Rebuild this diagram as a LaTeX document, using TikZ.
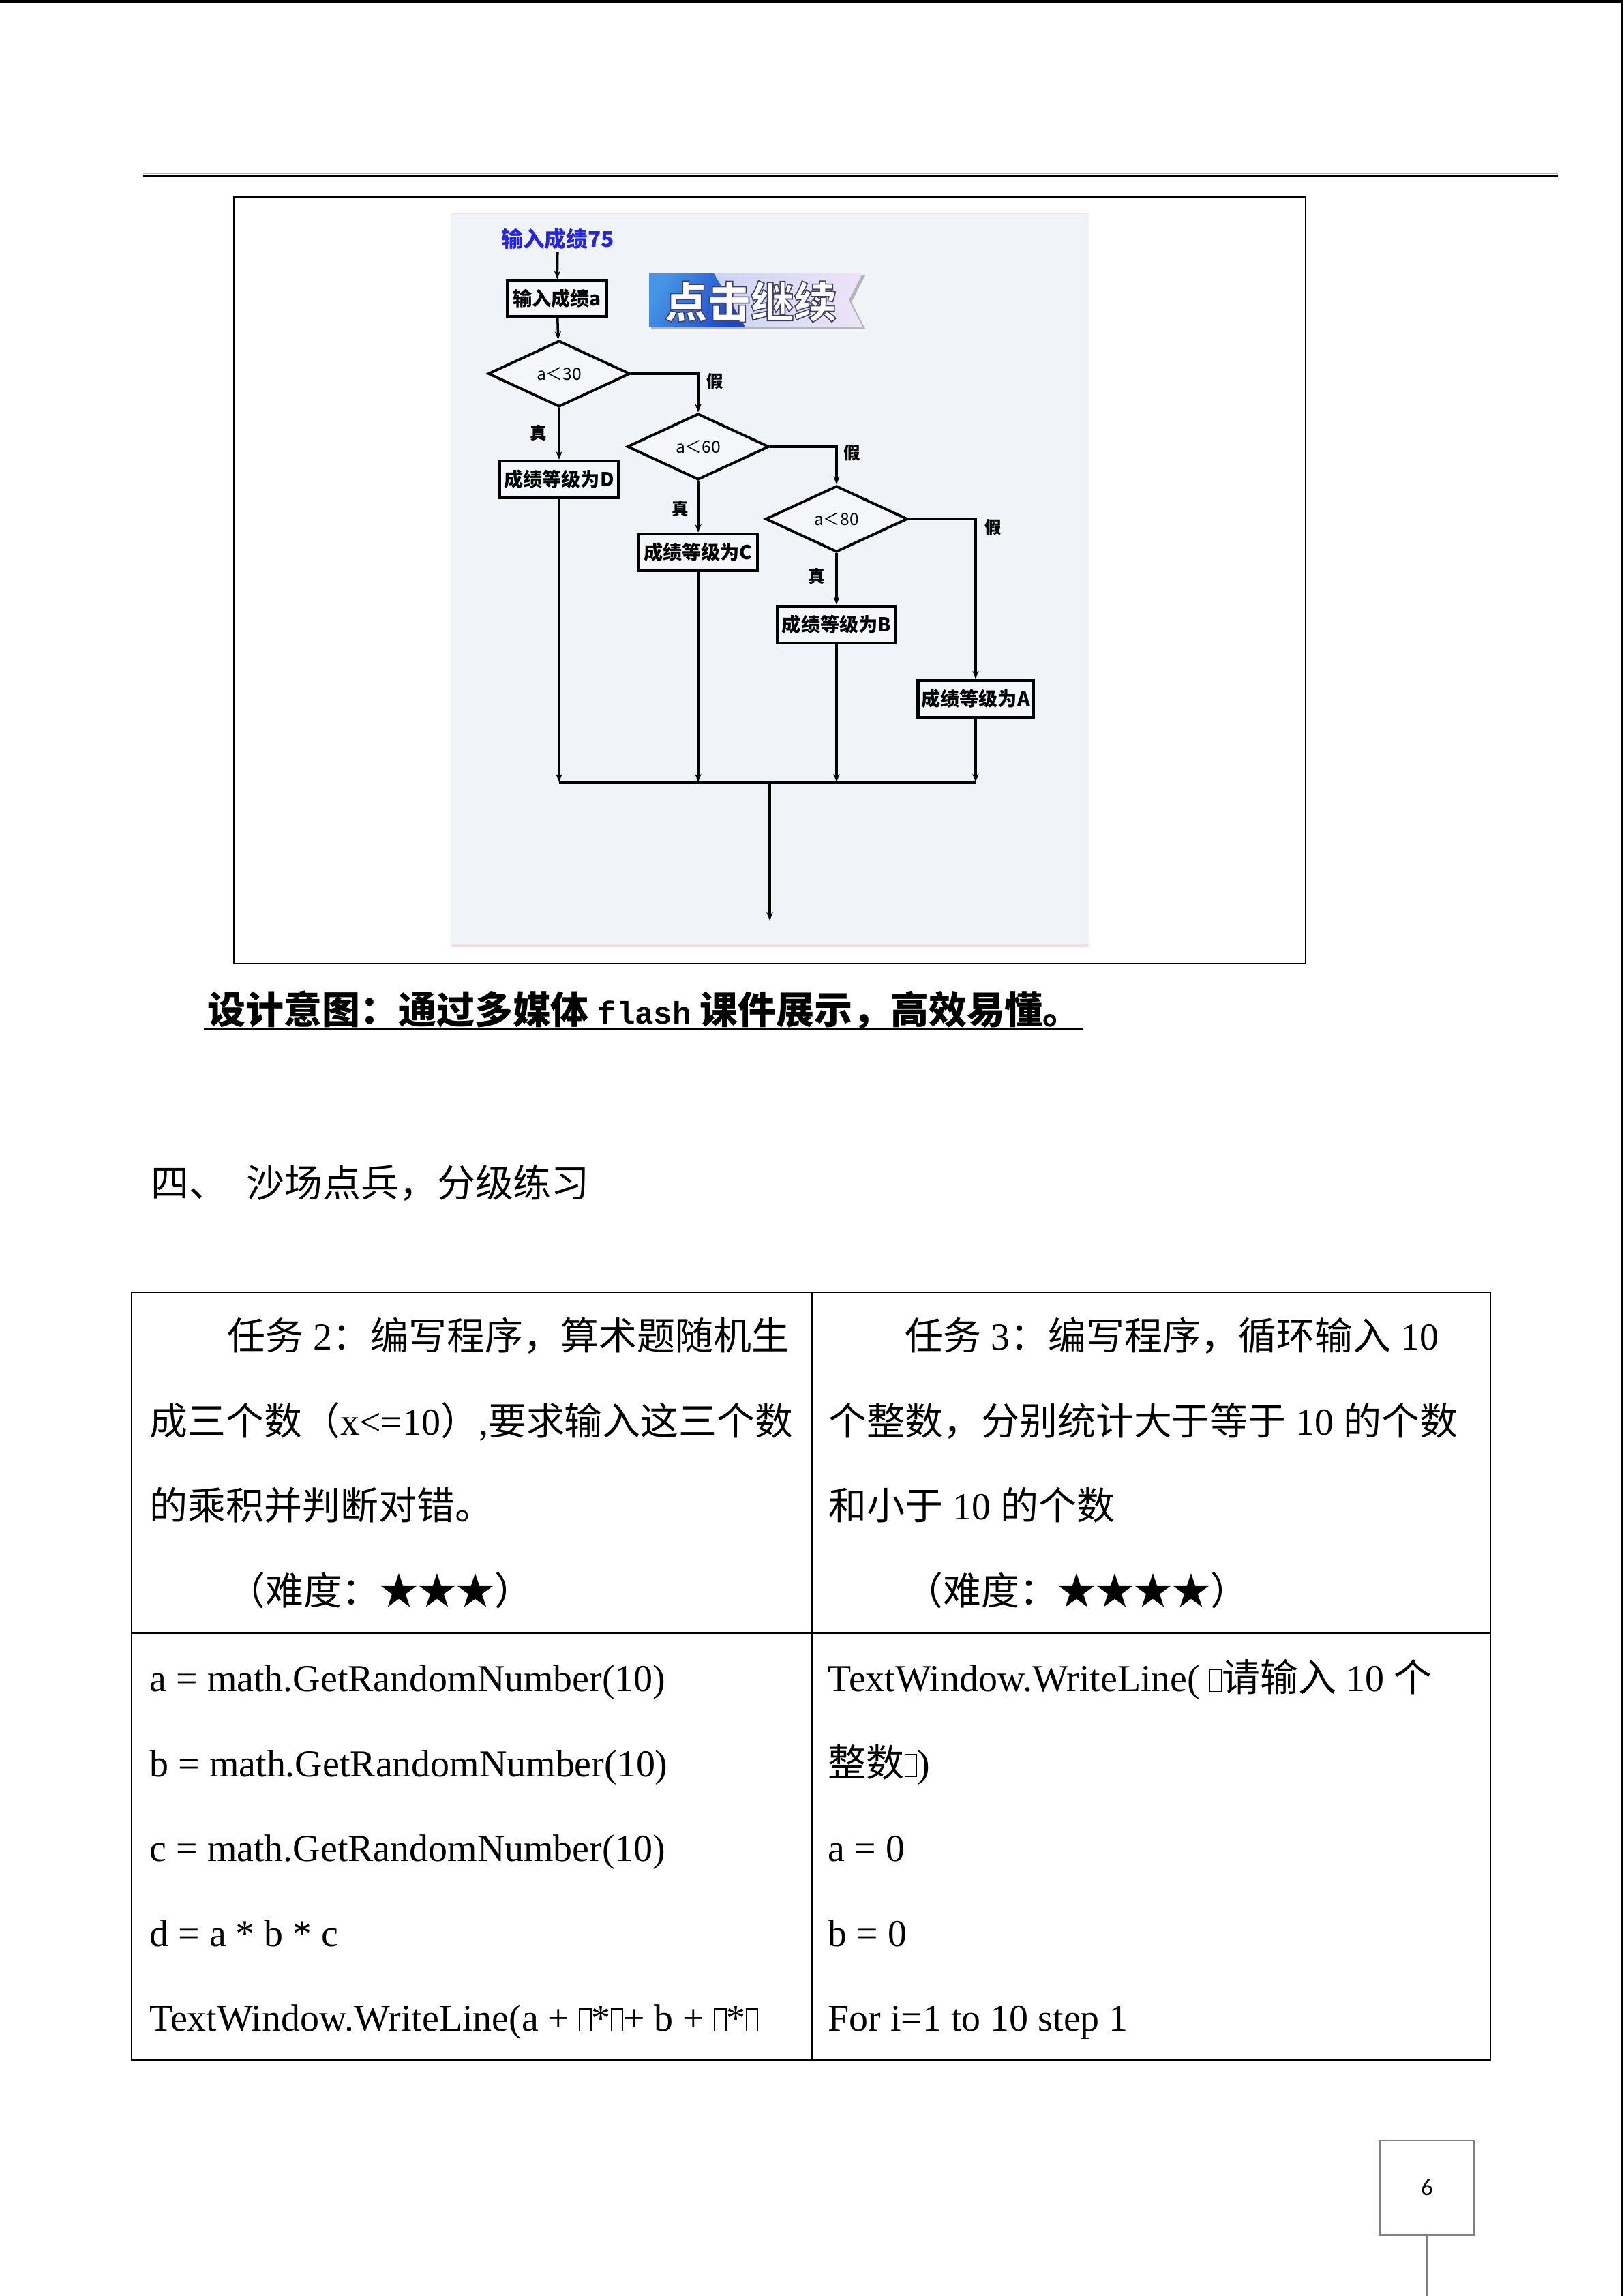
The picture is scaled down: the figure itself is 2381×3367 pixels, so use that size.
\documentclass[tikz,border=0pt]{standalone}
\usepackage{fontspec}
\setmainfont{Liberation Serif}
\setmonofont{Liberation Mono}
\newfontfamily\cjk{Noto Sans CJK SC}
\newfontfamily\pgnum{Carlito}
\usetikzlibrary{shapes.geometric,arrows.meta,calc}
\newcommand\lat[1]{{\rmfamily #1}}
\newcommand\tofu{{\setlength{\fboxsep}{0pt}\setlength{\fboxrule}{0.4pt}\fbox{\rule{0pt}{0.56em}\hspace{0.28em}}}}
\newcommand\bodysize{\fontsize{15.9}{19}\selectfont}
\newcommand\outl[1]{\special{pdf:literal direct 2 Tr 0.45 w 0.25 0.25 0.4 RG}#1\special{pdf:literal direct 0 Tr 0 G}}
\definecolor{imgbg}{RGB}{240,243,247}
\definecolor{imgpink}{RGB}{244,222,232}
\definecolor{startblue}{RGB}{35,35,235}
\definecolor{boxfill}{RGB}{244,246,250}
\definecolor{pggray}{RGB}{128,128,128}
\tikzset{
  fbx/.style={draw=black, line width=1.2pt, fill=boxfill, inner sep=0pt,
    minimum width=1.74cm, minimum height=0.54cm,
    font=\fontsize{8}{9}\selectfont\cjk\bfseries},
  dia/.style={diamond, draw=black, line width=1.1pt, fill=boxfill, inner sep=0pt,
    minimum width=2.08cm, minimum height=0.97cm,
    font=\fontsize{7}{8}\selectfont\cjk},
  arr/.style={line width=1pt, -{Stealth[length=3.4pt,width=2.6pt]}},
  barline/.style={line width=1.3pt},
  tf/.style={inner sep=0pt, font=\fontsize{7}{8}\selectfont\cjk\bfseries},
  body/.style={anchor=base west, inner sep=0pt, font=\bodysize\cjk},
  code/.style={anchor=base west, inner sep=0pt, font=\bodysize\rmfamily},
}
\begin{document}
\begin{tikzpicture}[x=0.01cm, y=-0.01cm]
\useasboundingbox (0,0) rectangle (2381,3367);
% page borders
\draw[line width=1.1pt] (0,2) -- (2381,2);
\draw[line width=0.8pt] (2379,0) -- (2379,3367);
% header rule
\draw[line width=0.3pt, gray!60] (210,254) -- (2285,254);
\draw[line width=1.1pt] (210,258) -- (2285,258);
% picture frame
\draw[line width=0.7pt] (343,289) rectangle (1915,1413);
% flowchart image background
\fill[imgbg] (662,313) rectangle (1597,1388);
\draw[imgpink, line width=0.6pt] (662,313) -- (1597,313);
\draw[imgpink, line width=1pt] (662,1387) -- (1597,1387);

% button
\fill[black, opacity=0.25] (955,404) -- (1269,404) -- (1249,443) -- (1269,482) -- (955,482) -- cycle;
\shade[left color={rgb,255:red,190;green,205;blue,242}, right color={rgb,255:red,238;green,228;blue,248}]
  (952,401) -- (1265,401) -- (1245,440) -- (1265,479) -- (952,479) -- cycle;
\shade[left color={rgb,255:red,70;green,150;blue,230}, right color={rgb,255:red,30;green,70;blue,200}, shading angle=60]
  (952,401) -- (1047,401) -- (1093,479) -- (952,479) -- cycle;
\node[text=white, inner sep=0pt, font=\fontsize{18}{20}\selectfont\cjk\bfseries] (btn) at (1101,442) {\outl{点击继续}};

% flowchart
\node[inner sep=1pt, text=startblue, font=\fontsize{9}{10}\selectfont\cjk\bfseries] (st) at (818,350) {输入成绩75};
\node[fbx, minimum width=1.45cm, minimum height=0.53cm] (in) at (817,438) {输入成绩a};
\node[dia] (d1) at (820,548) {a＜30};
\node[fbx] (D) at (820,703) {成绩等级为D};
\node[dia] (d2) at (1024,655) {a＜60};
\node[fbx] (C) at (1024,810) {成绩等级为C};
\node[dia] (d3) at (1227,761) {a＜80};
\node[fbx] (B) at (1227,916) {成绩等级为B};
\node[fbx, minimum width=1.69cm] (A) at (1431,1025) {成绩等级为A};
\coordinate (mL) at (820,1147);
\coordinate (mR) at (1431,1147);
\coordinate (mC) at (1129,1147);
\coordinate (fin) at (1129,1350);

\draw[arr] (st) -- (in);
\draw[arr] (in) -- (d1);
\draw[arr] (d1) -- (D);
\draw[arr] (d1.east) -| (d2.north);
\draw[arr] (d2) -- (C);
\draw[arr] (d2.east) -| (d3.north);
\draw[arr] (d3) -- (B);
\draw[arr] (d3.east) -| (A.north);
\draw[arr] (D) -- (mL);
\draw[arr] (C) -- (C |- mL);
\draw[arr] (B) -- (B |- mL);
\draw[arr] (A) -- (mR);
\draw[barline] (mL) -- (mR);
\draw[arr] (mC) -- (fin);

\node[tf] (t1) at (790,635) {真};
\node[tf] (t2) at (998,746) {真};
\node[tf] (t3) at (1198,845) {真};
\node[tf] (f1) at (1049,559) {假};
\node[tf] (f2) at (1250,664) {假};
\node[tf] (f3) at (1457,773) {假};

% title
\node[body, font=\bodysize\cjk\bfseries] (title) at (304,1501) {设计意图：通过多媒体 {\fontsize{13}{15}\selectfont\ttfamily\bfseries flash} 课件展示，高效易懂。};
\draw[line width=1.3pt] (299,1509) -- (1589,1509);

% section heading
\node[body] (sec) at (221,1755) {四、\hspace{0.28cm}沙场点兵，分级练习};

% table
\draw[line width=0.7pt] (193,1895) rectangle (2186,3021);
\draw[line width=0.45pt] (1191,1895) -- (1191,3021);
\draw[line width=0.6pt] (193,2395) -- (2186,2395);

\node[body] (l1) at (333,1979) {任务\lat{ 2}：编写程序，算术题随机生};
\node[body] (l2) at (219,2104) {成三个数（\lat{x<=10}）\lat{,}要求输入这三个数};
\node[body] (l3) at (219,2228) {的乘积并判断对错。};
\node[body] (l4) at (333,2353) {（难度：★★★）};

\node[body] (r1) at (1327,1979) {任务\lat{ 3}：编写程序，循环输入\lat{ 10}};
\node[body] (r2) at (1215,2104) {个整数，分别统计大于等于\lat{ 10 }的个数};
\node[body] (r3) at (1215,2228) {和小于\lat{ 10 }的个数};
\node[body] (r4) at (1327,2353) {（难度：★★★★）};

\node[code] (c1) at (219,2480) {a = math.GetRandomNumber(10)};
\node[code] (c2) at (219,2605) {b = math.GetRandomNumber(10)};
\node[code] (c3) at (219,2729) {c = math.GetRandomNumber(10)};
\node[code] (c4) at (219,2854) {d = a * b * c};
\node[code] (c5) at (219,2978) {TextWindow.WriteLine(a + \tofu*\tofu+ b + \tofu*\tofu};

\node[code] (e1) at (1214,2480) {TextWindow.WriteLine( \tofu{\cjk 请输入} 10 {\cjk 个}};
\node[code] (e2) at (1214,2605) {{\cjk 整数}\tofu)};
\node[code] (e3) at (1214,2729) {a = 0};
\node[code] (e4) at (1214,2854) {b = 0};
\node[code] (e5) at (1214,2978) {For i=1 to 10 step 1};

% page number
\node[draw=pggray, line width=0.85pt, minimum width=1.39cm, minimum height=1.38cm, inner sep=0pt,
  font=\pgnum\fontsize{10}{12}\selectfont] (pg) at (2093,3208) {6};
\coordinate (pgend) at (2093,3367);
\draw[draw=pggray, line width=0.85pt] (pg.south) -- (pgend);
\end{tikzpicture}
\end{document}
